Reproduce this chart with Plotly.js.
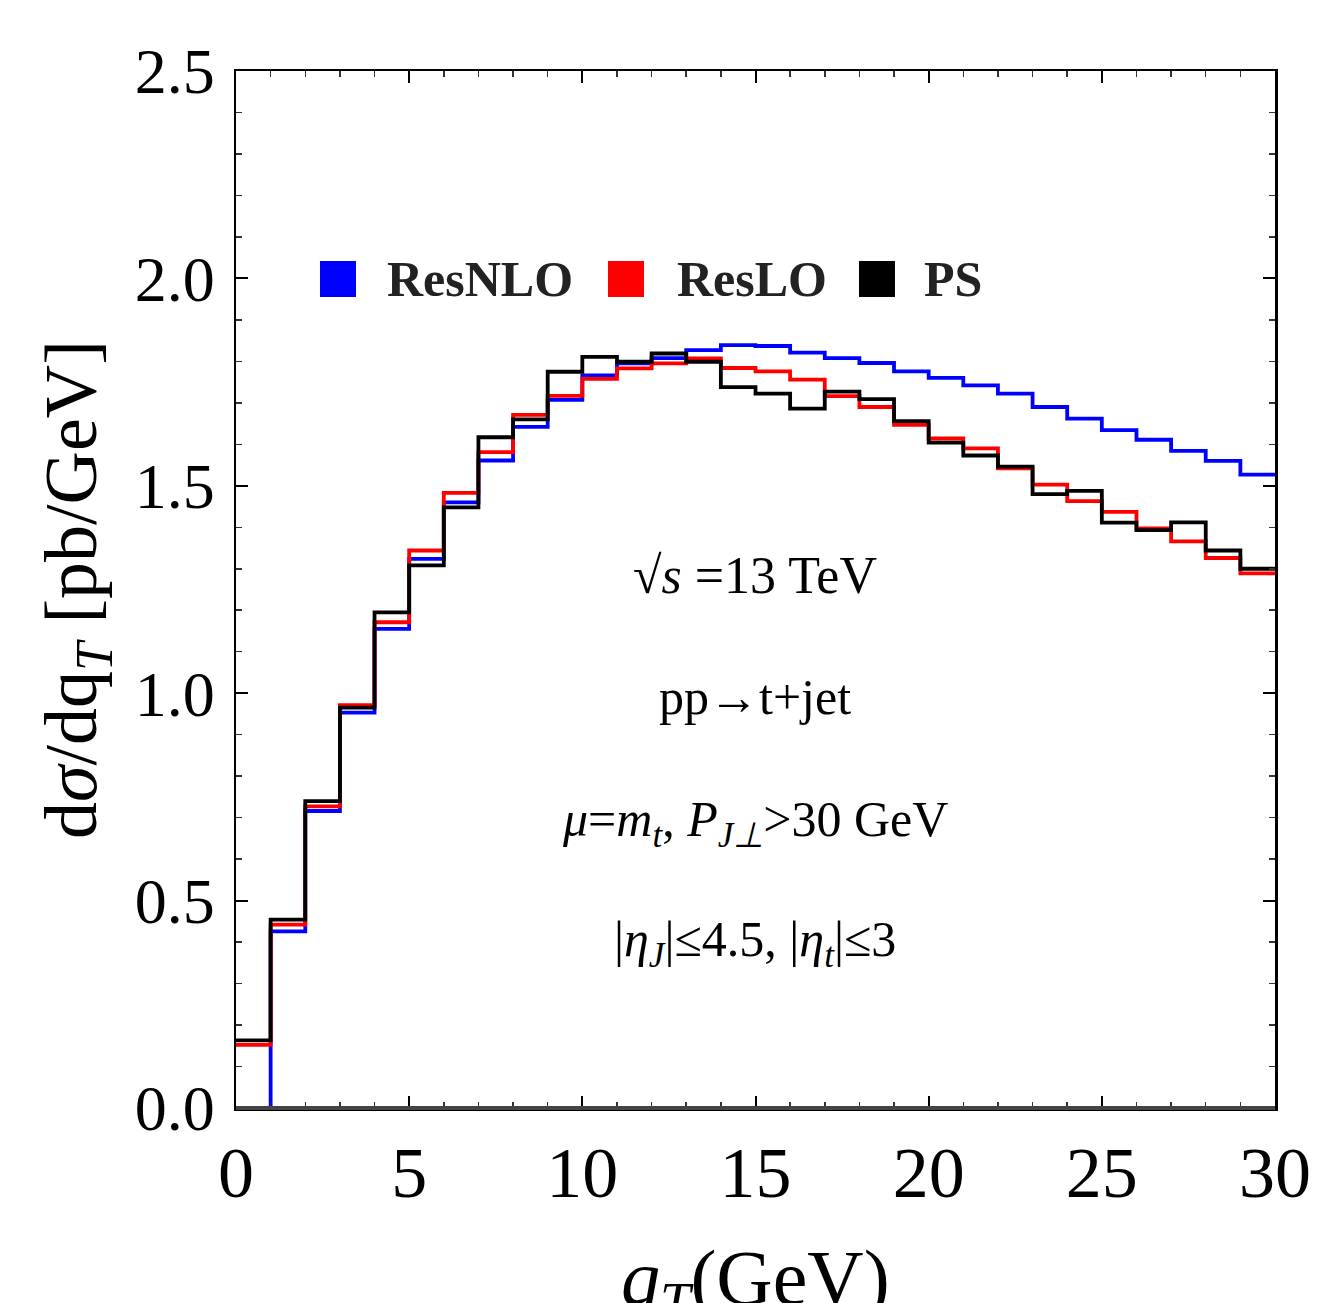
<!DOCTYPE html>
<html>
<head>
<meta charset="utf-8">
<script src="https://cdn.plot.ly/plotly-3.0.1.min.js"></script>
<style>html,body{margin:0;padding:0;background:#fff;}#chart{width:1318px;height:1303px;}</style>
</head>
<body>
<div id="chart"></div>
<script>
// Bin edges of q_T (GeV), 1 GeV bins
const binEdges = [0,1,2,3,4,5,6,7,8,9,10,11,12,13,14,15,16,17,18,19,20,21,22,23,24,25,26,27,28,29,30];
// dσ/dq_T [pb/GeV] per bin
const resNLO = [0, 0.426, 0.716, 0.953, 1.155, 1.324, 1.460, 1.561, 1.642, 1.707, 1.766, 1.795, 1.808, 1.827, 1.839, 1.837, 1.821, 1.808, 1.796, 1.776, 1.760, 1.742, 1.722, 1.690, 1.662, 1.634, 1.611, 1.584, 1.560, 1.527];
const resLO  = [0.152, 0.442, 0.727, 0.971, 1.171, 1.344, 1.483, 1.581, 1.671, 1.717, 1.758, 1.783, 1.795, 1.807, 1.784, 1.776, 1.756, 1.716, 1.690, 1.647, 1.614, 1.590, 1.542, 1.503, 1.463, 1.437, 1.397, 1.366, 1.326, 1.289];
const ps     = [0.163, 0.454, 0.740, 0.965, 1.195, 1.308, 1.448, 1.617, 1.660, 1.775, 1.811, 1.799, 1.819, 1.799, 1.738, 1.722, 1.686, 1.727, 1.709, 1.656, 1.604, 1.573, 1.546, 1.480, 1.488, 1.411, 1.393, 1.412, 1.344, 1.300];
const seriesNames = ["ResNLO", "ResLO", "PS"];
const xTickVals = [0,5,10,15,20,25,30];
const yTickVals = [0.0,0.5,1.0,1.5,2.0,2.5];
const yTickText = ["0.0","0.5","1.0","1.5","2.0","2.5"];
const xTitle = "<i>q<sub>T</sub></i>(GeV)";
const yTitle = "d<i>σ</i>/dq<sub><i>T</i></sub> [pb/GeV]";
const infoLines = ["√<i>s</i> =13 TeV", "pp→t+jet", "<i>μ</i>=<i>m<sub>t</sub></i>, <i>P<sub>J⊥</sub></i>>30 GeV", "|<i>η<sub>J</sub></i>|≤4.5, |<i>η<sub>t</sub></i>|≤3"];

const colors = ["#0000ff", "#ff0000", "#000000"];
const FONT = "Liberation Serif, Times New Roman, serif";

function stepY(v){ return v.concat([v[v.length-1]]); }

const traces = [resNLO, resLO, ps].map((v, i) => ({
  type: "scatter", mode: "lines",
  x: binEdges, y: stepY(v),
  line: {shape: "hv", color: colors[i], width: 3.8},
  name: seriesNames[i], showlegend: false, hoverinfo: "skip"
}));

// pixel -> paper helpers for the plot area (236..1275 x, 71..1108 y)
const L = 236, R = 1275, T = 71, B = 1108;
const px = p => (p - L) / (R - L);
const py = p => (B - p) / (B - T);

const annotations = [];
const infoY = [575, 697, 823, 943];
const infoSize = [52, 50, 50, 50];
infoLines.forEach((t, i) => annotations.push({
  text: t, xref: "paper", yref: "paper", x: px(755), y: py(infoY[i]),
  xanchor: "center", yanchor: "middle", showarrow: false,
  font: {family: FONT, size: infoSize[i], color: "#000"}
}));

// x-axis title, placed low as in the reference (partly cut by the page edge)
annotations.push({
  text: xTitle, xref: "paper", yref: "paper", x: px(755), y: py(1232),
  xanchor: "center", yanchor: "top", showarrow: false,
  font: {family: FONT, size: 78, color: "#000"}
});

const legX = [385, 675, 922];
const sqX = [320, 608, 859];
const shapes = [];
seriesNames.forEach((n, i) => {
  annotations.push({
    text: "<b>" + n + "</b>", xref: "paper", yref: "paper", x: px(legX[i]), y: py(279),
    xanchor: "left", yanchor: "middle", showarrow: false,
    font: {family: FONT, size: 50, color: "#222"}
  });
  shapes.push({
    type: "rect", xref: "paper", yref: "paper",
    x0: px(sqX[i]), x1: px(sqX[i] + 36), y0: py(297), y1: py(261),
    fillcolor: colors[i], line: {width: 0}
  });
});
// bottom frame edge drawn above the traces
shapes.push({type: "line", xref: "paper", yref: "paper", x0: 0, x1: 1, y0: 0, y1: 0,
  line: {color: "#444", width: 4}, layer: "above"});

const layout = {
  width: 1318, height: 1303,
  margin: {l: L, r: 1318 - R, t: T, b: 1303 - B},
  paper_bgcolor: "#fff", plot_bgcolor: "#fff",
  font: {family: FONT, color: "#000"},
  xaxis: {
    range: [0, 30], tickvals: xTickVals, ticktext: xTickVals.map(String),
    ticks: "inside", ticklen: 12, tickwidth: 2, tickcolor: "#000",
    minor: {dtick: 1, ticks: "inside", ticklen: 6, tickwidth: 1.5, tickcolor: "#333"},
    showline: true, linecolor: "#000", linewidth: 2.5, mirror: "allticks",
    showgrid: false, zeroline: false,
    tickfont: {family: FONT, size: 72, color: "#000"}, ticklabelstandoff: 0
  },
  yaxis: {
    range: [0, 2.5], tickvals: yTickVals, ticktext: yTickText,
    ticks: "inside", ticklen: 12, tickwidth: 2, tickcolor: "#000",
    minor: {dtick: 0.1, ticks: "inside", ticklen: 6, tickwidth: 1.5, tickcolor: "#333"},
    showline: true, linecolor: "#000", linewidth: 2.5, mirror: "allticks",
    showgrid: false, zeroline: false,
    tickfont: {family: FONT, size: 64, color: "#000"}, ticklabelstandoff: 6,
    title: {text: yTitle, font: {family: FONT, size: 74, color: "#000"}, standoff: 14}
  },
  annotations: annotations,
  shapes: shapes
};

Plotly.newPlot("chart", traces, layout, {staticPlot: true, displayModeBar: false});
</script>
</body>
</html>
